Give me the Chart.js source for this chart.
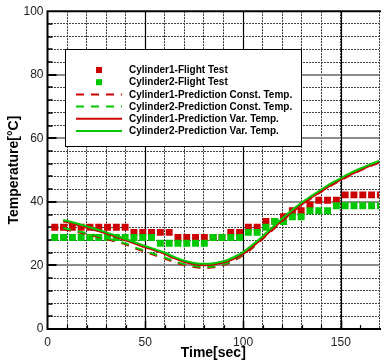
<!DOCTYPE html>
<html>
<head>
<meta charset="utf-8">
<script src="https://cdn.jsdelivr.net/npm/chart.js@4/dist/chart.umd.min.js"></script>
<style>
  html, body { margin: 0; padding: 0; background: #fff; overflow: hidden; }
  canvas { display: block; }
</style>
</head>
<body>
<canvas id="chart" width="385" height="364"></canvas>
<script>
// flight test samples (sec)
const testTimes = [3.7, 8.2, 12.7, 17.2, 21.7, 26.2, 30.7, 35.2, 39.7, 44.2, 48.7, 53.2, 57.7, 62.2,
  66.7, 71.2, 75.7, 80.2, 84.7, 89.2, 93.7, 98.2, 102.7, 107.2, 111.7, 116.2, 120.7, 125.2, 129.7,
  134.2, 138.7, 143.2, 147.7, 152.2, 156.7, 161.2, 165.7, 170.2];
const cyl1Test = [32, 32, 32, 32, 32, 32, 32, 32, 32, 30.4, 30.4, 30.4, 30.4, 30.4,
  28.8, 28.8, 28.8, 28.8, 28.8, 28.8, 30.4, 30.4, 32, 32, 33.8, 33.8, 35.3, 37.2, 37.2,
  39, 40.5, 40.5, 40.5, 42.2, 42.2, 42.2, 42.2, 42.2];
const cyl2Test = [28.8, 28.8, 28.8, 28.8, 28.8, 28.8, 28.8, 28.8, 28.8, 28.8, 28.8, 28.8, 27, 27,
  27, 27, 27, 27, 28.8, 28.8, 28.8, 28.8, 30.4, 30.4, 32, 33.8, 33.8, 35.3, 35.3,
  37.2, 37.2, 37.2, 38.8, 38.8, 38.8, 38.8, 38.8, 38.8];

// prediction curves
const predTimes = [8, 15, 20, 25, 30, 35, 40, 45, 50, 55, 60, 65, 70, 75, 80, 85, 90, 95, 100,
  105, 110, 115, 120, 125, 130, 135, 140, 145, 150, 155, 160, 165, 170];
const cyl1Const = [31.5, 30.5, 29.9, 29.1, 28.3, 27.5, 26.6, 25.3, 24.3, 23.2, 22.2, 21.0, 20.1, 19.5, 19.2,
  19.4, 20.1, 21.4, 23.2, 25.6, 28.3, 31.1, 33.9, 36.6, 39.0, 41.2, 43.2, 45.1, 46.8, 48.4, 49.9, 51.2, 52.4];
const cyl2Const = [31.8, 30.8, 30.2, 29.4, 28.6, 27.8, 26.9, 25.6, 24.6, 23.5, 22.5, 21.3, 20.4, 19.8, 19.5,
  19.7, 20.4, 21.7, 23.5, 25.9, 28.6, 31.4, 34.2, 36.9, 39.3, 41.5, 43.5, 45.4, 47.1, 48.7, 50.2, 51.5, 52.7];
const cyl1Var = [33.9, 32.8, 31.9, 31.0, 30.0, 29.0, 27.9, 26.8, 25.7, 24.7, 23.6, 22.2, 21.1, 20.4, 20.1,
  20.3, 20.9, 22.0, 23.6, 26.0, 28.6, 31.4, 34.2, 36.8, 39.2, 41.4, 43.4, 45.3, 47.0, 48.6, 50.0, 51.4, 52.6];
const cyl2Var = [34.3, 33.2, 32.3, 31.4, 30.4, 29.4, 28.3, 27.2, 26.1, 25.1, 24.0, 22.6, 21.5, 20.8, 20.5,
  20.7, 21.3, 22.5, 24.2, 26.6, 29.2, 32.0, 34.8, 37.4, 39.8, 41.9, 43.9, 45.8, 47.5, 49.1, 50.5, 51.8, 53.0];

const labels = [
  'Cylinder1-Flight Test',
  'Cylinder2-Flight Test',
  'Cylinder1-Prediction Const. Temp.',
  'Cylinder2-Prediction Const. Temp.',
  'Cylinder1-Prediction Var. Temp.',
  'Cylinder2-Prediction Var. Temp.'
];

const RED = '#cc0000';
const GREEN = '#00c800';

const pts = (xs, ys) => xs.map((x, i) => ({ x: x, y: ys[i] }));

// major grid lines, inner ticks and frame
const framePlugin = {
  id: 'frame',
  beforeDatasetsDraw(chart) {
    const { ctx, chartArea: a, scales: { x, y } } = chart;
    ctx.save();
    ctx.setLineDash([]);
    // horizontal majors
    ctx.strokeStyle = '#8c8c8c';
    ctx.lineWidth = 2;
    [20, 40, 60, 80].forEach(v => {
      const py = Math.round(y.getPixelForValue(v));
      ctx.beginPath(); ctx.moveTo(a.left, py); ctx.lineTo(a.right, py); ctx.stroke();
    });
    // vertical majors
    ctx.strokeStyle = '#000';
    ctx.lineWidth = 1.2;
    [50, 100, 150].forEach(v => {
      const px = Math.round(x.getPixelForValue(v)) + 0.5;
      ctx.beginPath(); ctx.moveTo(px, a.top); ctx.lineTo(px, a.bottom); ctx.stroke();
    });
    // inner ticks on left axis
    for (let v = 4; v < 100; v += 4) {
      const py = Math.round(y.getPixelForValue(v));
      const major = v % 20 === 0;
      ctx.lineWidth = major ? 2 : 1.5;
      ctx.beginPath(); ctx.moveTo(a.left, py); ctx.lineTo(a.left + (major ? 9 : 5), py); ctx.stroke();
    }
    // inner ticks on bottom axis
    for (let v = 10; v < 170; v += 10) {
      const px = Math.round(x.getPixelForValue(v)) + 0.5;
      const major = v % 50 === 0;
      ctx.lineWidth = major ? 1.5 : 1.2;
      ctx.beginPath(); ctx.moveTo(px, a.bottom); ctx.lineTo(px, a.bottom - (major ? 8 : 4)); ctx.stroke();
    }
    // frame
    ctx.lineWidth = 2;
    ctx.beginPath();
    ctx.moveTo(a.right + 2, a.top);
    ctx.lineTo(a.left, a.top);
    ctx.lineTo(a.left, a.bottom);
    ctx.lineTo(a.right + 2, a.bottom);
    ctx.stroke();
    ctx.restore();
  }
};

// boxed legend inside the plot
const legendPlugin = {
  id: 'boxLegend',
  afterDraw(chart, args, opts) {
    const { ctx } = chart;
    ctx.save();
    ctx.fillStyle = '#fff';
    ctx.strokeStyle = '#000';
    ctx.lineWidth = 1;
    ctx.setLineDash([]);
    ctx.fillRect(opts.left, opts.top, opts.width, opts.height);
    ctx.strokeRect(opts.left + 0.5, opts.top + 0.5, opts.width, opts.height);
    ctx.font = 'bold 10px "Liberation Sans", Arial, sans-serif';
    ctx.textBaseline = 'middle';
    chart.data.datasets.forEach((ds, i) => {
      const cy = opts.firstRow + i * opts.rowGap;
      if (!ds.showLine) {
        ctx.fillStyle = ds.backgroundColor;
        ctx.fillRect(opts.markX - 3, cy - 3, 6, 6);
      } else {
        ctx.strokeStyle = ds.borderColor;
        ctx.lineWidth = ds.borderWidth;
        ctx.setLineDash(ds.borderDash || []);
        ctx.beginPath();
        ctx.moveTo(opts.markX - 23, cy);
        ctx.lineTo(opts.markX + 23, cy);
        ctx.stroke();
        ctx.setLineDash([]);
      }
      ctx.fillStyle = '#000';
      ctx.fillText(ds.label, opts.textX, cy + 0.5);
    });
    ctx.restore();
  }
};

const markerSet = (label, data, color, order) => ({
  label: label, data: data, showLine: false, order: order,
  pointStyle: 'rect', pointRadius: 4.9, pointHoverRadius: 4.9,
  backgroundColor: color, borderColor: color, borderWidth: 0
});
const curveSet = (label, data, color, dash, order) => ({
  label: label, data: data, showLine: true, order: order,
  pointRadius: 0, borderColor: color, backgroundColor: color,
  borderWidth: 2, borderDash: dash, tension: 0.3
});

new Chart(document.getElementById('chart'), {
  type: 'scatter',
  data: {
    datasets: [
      markerSet(labels[0], pts(testTimes, cyl1Test), RED, 5),
      markerSet(labels[1], pts(testTimes, cyl2Test), GREEN, 4),
      curveSet(labels[2], pts(predTimes, cyl1Const), RED, [8, 7], 3),
      curveSet(labels[3], pts(predTimes, cyl2Const), GREEN, [8, 7], 2),
      curveSet(labels[4], pts(predTimes, cyl1Var), RED, [], 1),
      curveSet(labels[5], pts(predTimes, cyl2Var), GREEN, [], 0)
    ]
  },
  options: {
    responsive: false,
    animation: false,
    layout: { padding: { top: 10, right: 0, left: 0, bottom: 0 } },
    plugins: {
      legend: { display: false },
      tooltip: { enabled: false },
      boxLegend: { left: 65, top: 49, width: 236, height: 97, markX: 99, textX: 129, firstRow: 70, rowGap: 12.2 }
    },
    scales: {
      x: {
        type: 'linear', min: 0, max: 169.5,
        afterFit: s => { s.height = 35; },
        border: { display: false, dash: [2, 1] },
        grid: { color: '#333', lineWidth: 1, drawTicks: false },
        ticks: {
          stepSize: 10, autoSkip: false, maxRotation: 0, padding: 6,
          color: '#222', font: { family: '"Liberation Sans", Arial, sans-serif', size: 12 },
          callback: v => (v % 50 === 0 ? String(v) : '')
        },
        title: {
          display: true, text: 'Time[sec]', color: '#000', padding: { top: 0, bottom: 2 },
          font: { family: '"Liberation Sans", Arial, sans-serif', size: 14, weight: 'bold' }
        }
      },
      y: {
        type: 'linear', min: 0, max: 100,
        afterFit: s => { s.width = 47.5; },
        border: { display: false, dash: [2, 1] },
        grid: { color: '#444', lineWidth: 1, drawTicks: false },
        ticks: {
          stepSize: 4, autoSkip: false, padding: 4,
          color: '#222', font: { family: '"Liberation Sans", Arial, sans-serif', size: 12 },
          callback: v => (v % 20 === 0 ? String(v) : '')
        },
        title: {
          display: true, text: 'Temperature[°C]', color: '#000', padding: { top: 6, bottom: 0 },
          font: { family: '"Liberation Sans", Arial, sans-serif', size: 14, weight: 'bold' }
        }
      }
    }
  },
  plugins: [framePlugin, legendPlugin]
});
</script>
</body>
</html>
